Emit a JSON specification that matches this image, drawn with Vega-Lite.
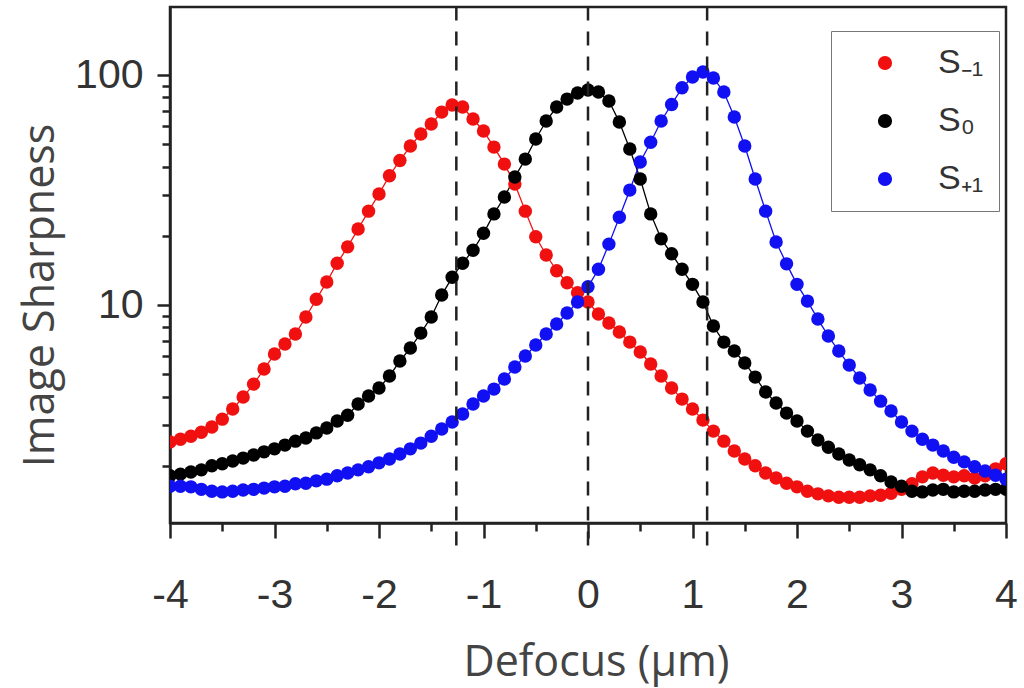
{
  "$schema": "https://vega.github.io/schema/vega-lite/v6.json",
  "width": 836,
  "height": 516,
  "autosize": {"type": "none"},
  "padding": {"left": 170, "top": 7, "right": 18, "bottom": 165},
  "background": "white",
  "config": {
    "view": {"stroke": "#222", "strokeWidth": 2.5},
    "axis": {
      "grid": false,
      "domainColor": "#222",
      "domainWidth": 2.5,
      "tickColor": "#222",
      "tickWidth": 2.5,
      "labelFont": "Liberation Sans",
      "labelFontSize": 41,
      "labelColor": "#333",
      "titleFont": "Open Sans",
      "titleFontSize": 43,
      "titleFontWeight": "normal",
      "titleColor": "#444"
    },
    "legend": {
      "orient": "none",
      "legendX": 661,
      "legendY": 24,
      "padding": 15,
      "strokeColor": "#777",
      "fillColor": "white",
      "symbolType": "circle",
      "symbolSize": 160,
      "symbolOffset": 22,
      "labelOffset": 36,
      "labelFont": "Liberation Sans",
      "labelFontSize": 34,
      "labelColor": "#333",
      "rowPadding": 24
    }
  },
  "datasets": {
    "pts": [
      {"x": -4.0, "s": "S₋₁", "v": 2.54}, {"x": -3.9, "s": "S₋₁", "v": 2.61}, {"x": -3.8, "s": "S₋₁", "v": 2.69}, {"x": -3.7, "s": "S₋₁", "v": 2.80}, {"x": -3.6, "s": "S₋₁", "v": 2.95},
      {"x": -3.5, "s": "S₋₁", "v": 3.19}, {"x": -3.4, "s": "S₋₁", "v": 3.53}, {"x": -3.3, "s": "S₋₁", "v": 3.98}, {"x": -3.2, "s": "S₋₁", "v": 4.53}, {"x": -3.1, "s": "S₋₁", "v": 5.27},
      {"x": -3.0, "s": "S₋₁", "v": 6.12}, {"x": -2.9, "s": "S₋₁", "v": 6.77}, {"x": -2.8, "s": "S₋₁", "v": 7.48}, {"x": -2.7, "s": "S₋₁", "v": 8.87}, {"x": -2.6, "s": "S₋₁", "v": 10.6},
      {"x": -2.5, "s": "S₋₁", "v": 12.6}, {"x": -2.4, "s": "S₋₁", "v": 15.2}, {"x": -2.3, "s": "S₋₁", "v": 17.9}, {"x": -2.2, "s": "S₋₁", "v": 21.4}, {"x": -2.1, "s": "S₋₁", "v": 25.6},
      {"x": -2.0, "s": "S₋₁", "v": 30.4}, {"x": -1.9, "s": "S₋₁", "v": 36.5}, {"x": -1.8, "s": "S₋₁", "v": 42.5}, {"x": -1.7, "s": "S₋₁", "v": 49.1}, {"x": -1.6, "s": "S₋₁", "v": 55.4},
      {"x": -1.5, "s": "S₋₁", "v": 61.2}, {"x": -1.4, "s": "S₋₁", "v": 69.0}, {"x": -1.3, "s": "S₋₁", "v": 74.1}, {"x": -1.2, "s": "S₋₁", "v": 72.6}, {"x": -1.1, "s": "S₋₁", "v": 64.4},
      {"x": -1.0, "s": "S₋₁", "v": 57.1}, {"x": -0.9, "s": "S₋₁", "v": 48.6}, {"x": -0.8, "s": "S₋₁", "v": 41.0}, {"x": -0.7, "s": "S₋₁", "v": 33.6}, {"x": -0.6, "s": "S₋₁", "v": 25.6},
      {"x": -0.5, "s": "S₋₁", "v": 19.8}, {"x": -0.4, "s": "S₋₁", "v": 16.5}, {"x": -0.3, "s": "S₋₁", "v": 14.1}, {"x": -0.2, "s": "S₋₁", "v": 12.5}, {"x": -0.1, "s": "S₋₁", "v": 11.3},
      {"x": 0.0, "s": "S₋₁", "v": 10.3}, {"x": 0.1, "s": "S₋₁", "v": 9.14}, {"x": 0.2, "s": "S₋₁", "v": 8.35}, {"x": 0.3, "s": "S₋₁", "v": 7.63}, {"x": 0.4, "s": "S₋₁", "v": 6.90},
      {"x": 0.5, "s": "S₋₁", "v": 6.25}, {"x": 0.6, "s": "S₋₁", "v": 5.54}, {"x": 0.7, "s": "S₋₁", "v": 4.91}, {"x": 0.8, "s": "S₋₁", "v": 4.36}, {"x": 0.9, "s": "S₋₁", "v": 3.90},
      {"x": 1.0, "s": "S₋₁", "v": 3.53}, {"x": 1.1, "s": "S₋₁", "v": 3.16}, {"x": 1.2, "s": "S₋₁", "v": 2.83}, {"x": 1.3, "s": "S₋₁", "v": 2.56}, {"x": 1.4, "s": "S₋₁", "v": 2.32},
      {"x": 1.5, "s": "S₋₁", "v": 2.14}, {"x": 1.6, "s": "S₋₁", "v": 2.00}, {"x": 1.7, "s": "S₋₁", "v": 1.86}, {"x": 1.8, "s": "S₋₁", "v": 1.77}, {"x": 1.9, "s": "S₋₁", "v": 1.68},
      {"x": 2.0, "s": "S₋₁", "v": 1.62}, {"x": 2.1, "s": "S₋₁", "v": 1.55}, {"x": 2.2, "s": "S₋₁", "v": 1.51}, {"x": 2.3, "s": "S₋₁", "v": 1.48}, {"x": 2.4, "s": "S₋₁", "v": 1.46},
      {"x": 2.5, "s": "S₋₁", "v": 1.46}, {"x": 2.6, "s": "S₋₁", "v": 1.46}, {"x": 2.7, "s": "S₋₁", "v": 1.48}, {"x": 2.8, "s": "S₋₁", "v": 1.49}, {"x": 2.9, "s": "S₋₁", "v": 1.52},
      {"x": 3.0, "s": "S₋₁", "v": 1.58}, {"x": 3.1, "s": "S₋₁", "v": 1.67}, {"x": 3.2, "s": "S₋₁", "v": 1.79}, {"x": 3.3, "s": "S₋₁", "v": 1.86}, {"x": 3.4, "s": "S₋₁", "v": 1.82},
      {"x": 3.5, "s": "S₋₁", "v": 1.79}, {"x": 3.6, "s": "S₋₁", "v": 1.81}, {"x": 3.7, "s": "S₋₁", "v": 1.77}, {"x": 3.8, "s": "S₋₁", "v": 1.81}, {"x": 3.9, "s": "S₋₁", "v": 1.94},
      {"x": 4.0, "s": "S₋₁", "v": 2.04},

      {"x": -4.0, "s": "S₀", "v": 1.81}, {"x": -3.9, "s": "S₀", "v": 1.84}, {"x": -3.8, "s": "S₀", "v": 1.88}, {"x": -3.7, "s": "S₀", "v": 1.92}, {"x": -3.6, "s": "S₀", "v": 2.00},
      {"x": -3.5, "s": "S₀", "v": 2.04}, {"x": -3.4, "s": "S₀", "v": 2.10}, {"x": -3.3, "s": "S₀", "v": 2.16}, {"x": -3.2, "s": "S₀", "v": 2.23}, {"x": -3.1, "s": "S₀", "v": 2.30},
      {"x": -3.0, "s": "S₀", "v": 2.37}, {"x": -2.9, "s": "S₀", "v": 2.46}, {"x": -2.8, "s": "S₀", "v": 2.56}, {"x": -2.7, "s": "S₀", "v": 2.64}, {"x": -2.6, "s": "S₀", "v": 2.78},
      {"x": -2.5, "s": "S₀", "v": 2.92}, {"x": -2.4, "s": "S₀", "v": 3.13}, {"x": -2.3, "s": "S₀", "v": 3.32}, {"x": -2.2, "s": "S₀", "v": 3.71}, {"x": -2.1, "s": "S₀", "v": 4.02},
      {"x": -2.0, "s": "S₀", "v": 4.36}, {"x": -1.9, "s": "S₀", "v": 4.91}, {"x": -1.8, "s": "S₀", "v": 5.71}, {"x": -1.7, "s": "S₀", "v": 6.50}, {"x": -1.6, "s": "S₀", "v": 7.55},
      {"x": -1.5, "s": "S₀", "v": 8.87}, {"x": -1.4, "s": "S₀", "v": 11.05}, {"x": -1.3, "s": "S₀", "v": 13.2}, {"x": -1.2, "s": "S₀", "v": 15.2}, {"x": -1.1, "s": "S₀", "v": 17.3},
      {"x": -1.0, "s": "S₀", "v": 20.5}, {"x": -0.9, "s": "S₀", "v": 24.9}, {"x": -0.8, "s": "S₀", "v": 29.5}, {"x": -0.7, "s": "S₀", "v": 36.0}, {"x": -0.6, "s": "S₀", "v": 43.1},
      {"x": -0.5, "s": "S₀", "v": 52.7}, {"x": -0.4, "s": "S₀", "v": 63.1}, {"x": -0.3, "s": "S₀", "v": 72.6}, {"x": -0.2, "s": "S₀", "v": 78.6}, {"x": -0.1, "s": "S₀", "v": 83.5},
      {"x": 0.0, "s": "S₀", "v": 86.1}, {"x": 0.1, "s": "S₀", "v": 84.4}, {"x": 0.2, "s": "S₀", "v": 77.1}, {"x": 0.3, "s": "S₀", "v": 62.5}, {"x": 0.4, "s": "S₀", "v": 47.7},
      {"x": 0.5, "s": "S₀", "v": 35.3}, {"x": 0.6, "s": "S₀", "v": 24.9}, {"x": 0.7, "s": "S₀", "v": 19.4}, {"x": 0.8, "s": "S₀", "v": 16.7}, {"x": 0.9, "s": "S₀", "v": 14.3},
      {"x": 1.0, "s": "S₀", "v": 12.3}, {"x": 1.1, "s": "S₀", "v": 10.3}, {"x": 1.2, "s": "S₀", "v": 8.10}, {"x": 1.3, "s": "S₀", "v": 6.90}, {"x": 1.4, "s": "S₀", "v": 6.31},
      {"x": 1.5, "s": "S₀", "v": 5.60}, {"x": 1.6, "s": "S₀", "v": 4.86}, {"x": 1.7, "s": "S₀", "v": 4.19}, {"x": 1.8, "s": "S₀", "v": 3.75}, {"x": 1.9, "s": "S₀", "v": 3.39},
      {"x": 2.0, "s": "S₀", "v": 3.13}, {"x": 2.1, "s": "S₀", "v": 2.83}, {"x": 2.2, "s": "S₀", "v": 2.59}, {"x": 2.3, "s": "S₀", "v": 2.41}, {"x": 2.4, "s": "S₀", "v": 2.25},
      {"x": 2.5, "s": "S₀", "v": 2.12}, {"x": 2.6, "s": "S₀", "v": 2.02}, {"x": 2.7, "s": "S₀", "v": 1.92}, {"x": 2.8, "s": "S₀", "v": 1.81}, {"x": 2.9, "s": "S₀", "v": 1.70},
      {"x": 3.0, "s": "S₀", "v": 1.63}, {"x": 3.1, "s": "S₀", "v": 1.55}, {"x": 3.2, "s": "S₀", "v": 1.54}, {"x": 3.3, "s": "S₀", "v": 1.57}, {"x": 3.4, "s": "S₀", "v": 1.58},
      {"x": 3.5, "s": "S₀", "v": 1.54}, {"x": 3.6, "s": "S₀", "v": 1.55}, {"x": 3.7, "s": "S₀", "v": 1.55}, {"x": 3.8, "s": "S₀", "v": 1.57}, {"x": 3.9, "s": "S₀", "v": 1.58},
      {"x": 4.0, "s": "S₀", "v": 1.58},

      {"x": -4.0, "s": "S₊₁", "v": 1.63}, {"x": -3.9, "s": "S₊₁", "v": 1.63}, {"x": -3.8, "s": "S₊₁", "v": 1.62}, {"x": -3.7, "s": "S₊₁", "v": 1.58}, {"x": -3.6, "s": "S₊₁", "v": 1.55},
      {"x": -3.5, "s": "S₊₁", "v": 1.54}, {"x": -3.4, "s": "S₊₁", "v": 1.55}, {"x": -3.3, "s": "S₊₁", "v": 1.57}, {"x": -3.2, "s": "S₊₁", "v": 1.58}, {"x": -3.1, "s": "S₊₁", "v": 1.60},
      {"x": -3.0, "s": "S₊₁", "v": 1.62}, {"x": -2.9, "s": "S₊₁", "v": 1.63}, {"x": -2.8, "s": "S₊₁", "v": 1.67}, {"x": -2.7, "s": "S₊₁", "v": 1.68}, {"x": -2.6, "s": "S₊₁", "v": 1.72},
      {"x": -2.5, "s": "S₊₁", "v": 1.75}, {"x": -2.4, "s": "S₊₁", "v": 1.81}, {"x": -2.3, "s": "S₊₁", "v": 1.86}, {"x": -2.2, "s": "S₊₁", "v": 1.92}, {"x": -2.1, "s": "S₊₁", "v": 1.98},
      {"x": -2.0, "s": "S₊₁", "v": 2.06}, {"x": -1.9, "s": "S₊₁", "v": 2.14}, {"x": -1.8, "s": "S₊₁", "v": 2.25}, {"x": -1.7, "s": "S₊₁", "v": 2.37}, {"x": -1.6, "s": "S₊₁", "v": 2.51},
      {"x": -1.5, "s": "S₊₁", "v": 2.69}, {"x": -1.4, "s": "S₊₁", "v": 2.89}, {"x": -1.3, "s": "S₊₁", "v": 3.10}, {"x": -1.2, "s": "S₊₁", "v": 3.36}, {"x": -1.1, "s": "S₊₁", "v": 3.71},
      {"x": -1.0, "s": "S₊₁", "v": 4.02}, {"x": -0.9, "s": "S₊₁", "v": 4.31}, {"x": -0.8, "s": "S₊₁", "v": 4.77}, {"x": -0.7, "s": "S₊₁", "v": 5.38}, {"x": -0.6, "s": "S₊₁", "v": 6.00},
      {"x": -0.5, "s": "S₊₁", "v": 6.70}, {"x": -0.4, "s": "S₊₁", "v": 7.48}, {"x": -0.3, "s": "S₊₁", "v": 8.27}, {"x": -0.2, "s": "S₊₁", "v": 9.23}, {"x": -0.1, "s": "S₊₁", "v": 10.3},
      {"x": 0.0, "s": "S₊₁", "v": 12.0}, {"x": 0.1, "s": "S₊₁", "v": 14.3}, {"x": 0.2, "s": "S₊₁", "v": 18.4}, {"x": 0.3, "s": "S₊₁", "v": 24.1}, {"x": 0.4, "s": "S₊₁", "v": 31.6},
      {"x": 0.5, "s": "S₊₁", "v": 41.9}, {"x": 0.6, "s": "S₊₁", "v": 51.0}, {"x": 0.7, "s": "S₊₁", "v": 63.1}, {"x": 0.8, "s": "S₊₁", "v": 74.5}, {"x": 0.9, "s": "S₊₁", "v": 88.0},
      {"x": 1.0, "s": "S₊₁", "v": 98.0}, {"x": 1.1, "s": "S₊₁", "v": 103.0}, {"x": 1.2, "s": "S₊₁", "v": 97.0}, {"x": 1.3, "s": "S₊₁", "v": 84.4}, {"x": 1.4, "s": "S₊₁", "v": 65.7},
      {"x": 1.5, "s": "S₊₁", "v": 49.1}, {"x": 1.6, "s": "S₊₁", "v": 35.3}, {"x": 1.7, "s": "S₊₁", "v": 25.6}, {"x": 1.8, "s": "S₊₁", "v": 18.8}, {"x": 1.9, "s": "S₊₁", "v": 15.1},
      {"x": 2.0, "s": "S₊₁", "v": 12.3}, {"x": 2.1, "s": "S₊₁", "v": 10.4}, {"x": 2.2, "s": "S₊₁", "v": 8.69}, {"x": 2.3, "s": "S₊₁", "v": 7.33}, {"x": 2.4, "s": "S₊₁", "v": 6.31},
      {"x": 2.5, "s": "S₊₁", "v": 5.48}, {"x": 2.6, "s": "S₊₁", "v": 4.82}, {"x": 2.7, "s": "S₊₁", "v": 4.27}, {"x": 2.8, "s": "S₊₁", "v": 3.82}, {"x": 2.9, "s": "S₊₁", "v": 3.46},
      {"x": 3.0, "s": "S₊₁", "v": 3.10}, {"x": 3.1, "s": "S₊₁", "v": 2.83}, {"x": 3.2, "s": "S₊₁", "v": 2.61}, {"x": 3.3, "s": "S₊₁", "v": 2.46}, {"x": 3.4, "s": "S₊₁", "v": 2.32},
      {"x": 3.5, "s": "S₊₁", "v": 2.18}, {"x": 3.6, "s": "S₊₁", "v": 2.08}, {"x": 3.7, "s": "S₊₁", "v": 1.98}, {"x": 3.8, "s": "S₊₁", "v": 1.90}, {"x": 3.9, "s": "S₊₁", "v": 1.82},
      {"x": 4.0, "s": "S₊₁", "v": 1.75}
    ]
  },
  "layer": [
    {
      "data": {"name": "pts"},
      "mark": {"type": "line", "strokeWidth": 1.3, "clip": true},
      "encoding": {
        "x": {"field": "x", "type": "quantitative", "scale": {"domain": [-4, 4], "nice": false, "zero": false},
          "axis": {
            "title": "Defocus (μm)",
            "values": [-4, -3.5, -3, -2.5, -2, -1.5, -1, -0.5, 0, 0.5, 1, 1.5, 2, 2.5, 3, 3.5, 4],
            "labelExpr": "datum.value % 1 == 0 ? '' + datum.value : ''",
            "tickSize": {"condition": {"test": "datum.value % 1 == 0", "value": 15}, "value": 8},
            "labelPadding": 37,
            "labelFlush": false,
            "labelOverlap": false,
            "labelBound": false,
            "titleX": 426,
            "titleY": 152,
            "titleBaseline": "alphabetic",
            "titleAlign": "center"
          }
        },
        "y": {"field": "v", "type": "quantitative", "scale": {"type": "log", "domain": [1.128, 197.6], "nice": false},
          "axis": {
            "title": "Image Sharpness",
            "values": [2, 3, 4, 5, 6, 7, 8, 9, 10, 20, 30, 40, 50, 60, 70, 80, 90, 100],
            "labelExpr": "datum.value == 10 || datum.value == 100 ? '' + datum.value : ''",
            "tickSize": {"condition": {"test": "datum.value == 10 || datum.value == 100", "value": 13}, "value": 8},
            "labelPadding": 14,
            "labelOverlap": false,
            "titleX": -117,
            "titleY": 288,
            "titleAngle": 270,
            "titleBaseline": "alphabetic",
            "titleAlign": "center"
          }
        },
        "color": {"field": "s", "type": "nominal", "title": null, "scale": {"domain": ["S₋₁", "S₀", "S₊₁"], "range": ["#f01010", "#000000", "#1010f2"]}}
      }
    },
    {
      "data": {"name": "pts"},
      "mark": {"type": "point", "filled": true, "size": 180, "opacity": 1, "clip": true},
      "encoding": {
        "x": {"field": "x", "type": "quantitative"},
        "y": {"field": "v", "type": "quantitative"},
        "color": {"field": "s", "type": "nominal", "title": null}
      }
    },
    {
      "data": {"values": [{"x": -1.26}, {"x": 0}, {"x": 1.14}]},
      "mark": {"type": "rule", "strokeDash": [14, 11], "strokeWidth": 2.5, "color": "#222", "clip": false},
      "encoding": {
        "x": {"field": "x", "type": "quantitative"},
        "y": {"datum": 0.9, "type": "quantitative"},
        "y2": {"datum": 197}
      }
    }
  ]
}
